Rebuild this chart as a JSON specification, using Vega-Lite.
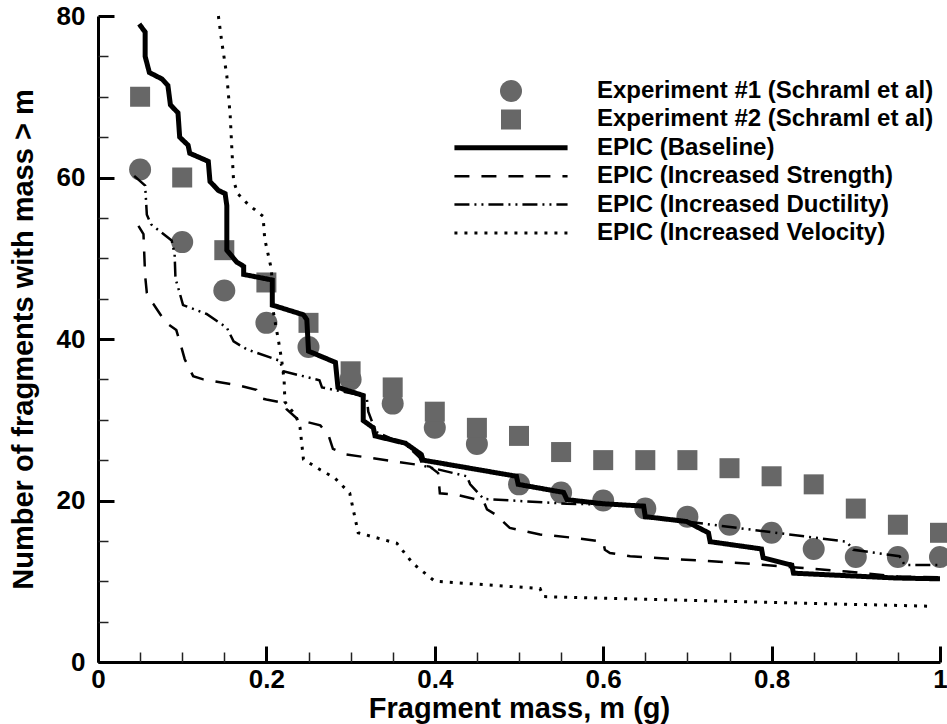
{
  "$schema": "https://vega.github.io/schema/vega-lite/v6.json",
  "width": 842,
  "height": 646,
  "autosize": {"type": "none"},
  "padding": {"left": 98, "top": 16, "right": 7, "bottom": 62},
  "background": "white",
  "config": {"view": {"stroke": null}, "font": "Liberation Sans"},
  "datasets": {
    "exp": [
      {"series": "Experiment #1 (Schraml et al)", "m": 0.05, "n": 61},
      {"series": "Experiment #1 (Schraml et al)", "m": 0.10, "n": 52},
      {"series": "Experiment #1 (Schraml et al)", "m": 0.15, "n": 46},
      {"series": "Experiment #1 (Schraml et al)", "m": 0.20, "n": 42},
      {"series": "Experiment #1 (Schraml et al)", "m": 0.25, "n": 39},
      {"series": "Experiment #1 (Schraml et al)", "m": 0.30, "n": 35},
      {"series": "Experiment #1 (Schraml et al)", "m": 0.35, "n": 32},
      {"series": "Experiment #1 (Schraml et al)", "m": 0.40, "n": 29},
      {"series": "Experiment #1 (Schraml et al)", "m": 0.45, "n": 27},
      {"series": "Experiment #1 (Schraml et al)", "m": 0.50, "n": 22},
      {"series": "Experiment #1 (Schraml et al)", "m": 0.55, "n": 21},
      {"series": "Experiment #1 (Schraml et al)", "m": 0.60, "n": 20},
      {"series": "Experiment #1 (Schraml et al)", "m": 0.65, "n": 19},
      {"series": "Experiment #1 (Schraml et al)", "m": 0.70, "n": 18},
      {"series": "Experiment #1 (Schraml et al)", "m": 0.75, "n": 17},
      {"series": "Experiment #1 (Schraml et al)", "m": 0.80, "n": 16},
      {"series": "Experiment #1 (Schraml et al)", "m": 0.85, "n": 14},
      {"series": "Experiment #1 (Schraml et al)", "m": 0.90, "n": 13},
      {"series": "Experiment #1 (Schraml et al)", "m": 0.95, "n": 13},
      {"series": "Experiment #1 (Schraml et al)", "m": 1.00, "n": 13},
      {"series": "Experiment #2 (Schraml et al)", "m": 0.05, "n": 70},
      {"series": "Experiment #2 (Schraml et al)", "m": 0.10, "n": 60},
      {"series": "Experiment #2 (Schraml et al)", "m": 0.15, "n": 51},
      {"series": "Experiment #2 (Schraml et al)", "m": 0.20, "n": 47},
      {"series": "Experiment #2 (Schraml et al)", "m": 0.25, "n": 42},
      {"series": "Experiment #2 (Schraml et al)", "m": 0.30, "n": 36},
      {"series": "Experiment #2 (Schraml et al)", "m": 0.35, "n": 34},
      {"series": "Experiment #2 (Schraml et al)", "m": 0.40, "n": 31},
      {"series": "Experiment #2 (Schraml et al)", "m": 0.45, "n": 29},
      {"series": "Experiment #2 (Schraml et al)", "m": 0.50, "n": 28},
      {"series": "Experiment #2 (Schraml et al)", "m": 0.55, "n": 26},
      {"series": "Experiment #2 (Schraml et al)", "m": 0.60, "n": 25},
      {"series": "Experiment #2 (Schraml et al)", "m": 0.65, "n": 25},
      {"series": "Experiment #2 (Schraml et al)", "m": 0.70, "n": 25},
      {"series": "Experiment #2 (Schraml et al)", "m": 0.75, "n": 24},
      {"series": "Experiment #2 (Schraml et al)", "m": 0.80, "n": 23},
      {"series": "Experiment #2 (Schraml et al)", "m": 0.85, "n": 22},
      {"series": "Experiment #2 (Schraml et al)", "m": 0.90, "n": 19},
      {"series": "Experiment #2 (Schraml et al)", "m": 0.95, "n": 17},
      {"series": "Experiment #2 (Schraml et al)", "m": 1.00, "n": 16}
    ],
    "epic": [
      {"series": "EPIC (Baseline)", "m": 0.049, "n": 79},
      {"series": "EPIC (Baseline)", "m": 0.056, "n": 78},
      {"series": "EPIC (Baseline)", "m": 0.056, "n": 75},
      {"series": "EPIC (Baseline)", "m": 0.061, "n": 73},
      {"series": "EPIC (Baseline)", "m": 0.076, "n": 72.2},
      {"series": "EPIC (Baseline)", "m": 0.083, "n": 71.4},
      {"series": "EPIC (Baseline)", "m": 0.086, "n": 69},
      {"series": "EPIC (Baseline)", "m": 0.095, "n": 68},
      {"series": "EPIC (Baseline)", "m": 0.097, "n": 65},
      {"series": "EPIC (Baseline)", "m": 0.107, "n": 64},
      {"series": "EPIC (Baseline)", "m": 0.109, "n": 63},
      {"series": "EPIC (Baseline)", "m": 0.131, "n": 62},
      {"series": "EPIC (Baseline)", "m": 0.133, "n": 59.5},
      {"series": "EPIC (Baseline)", "m": 0.143, "n": 58.4},
      {"series": "EPIC (Baseline)", "m": 0.151, "n": 58},
      {"series": "EPIC (Baseline)", "m": 0.153, "n": 56.5},
      {"series": "EPIC (Baseline)", "m": 0.153, "n": 51},
      {"series": "EPIC (Baseline)", "m": 0.165, "n": 49.5},
      {"series": "EPIC (Baseline)", "m": 0.173, "n": 49},
      {"series": "EPIC (Baseline)", "m": 0.173, "n": 48},
      {"series": "EPIC (Baseline)", "m": 0.207, "n": 47.3},
      {"series": "EPIC (Baseline)", "m": 0.207, "n": 44.2},
      {"series": "EPIC (Baseline)", "m": 0.244, "n": 43},
      {"series": "EPIC (Baseline)", "m": 0.248, "n": 42.4},
      {"series": "EPIC (Baseline)", "m": 0.25, "n": 38.5},
      {"series": "EPIC (Baseline)", "m": 0.282, "n": 37.1},
      {"series": "EPIC (Baseline)", "m": 0.285, "n": 34},
      {"series": "EPIC (Baseline)", "m": 0.315, "n": 33},
      {"series": "EPIC (Baseline)", "m": 0.315, "n": 29.9},
      {"series": "EPIC (Baseline)", "m": 0.327, "n": 29},
      {"series": "EPIC (Baseline)", "m": 0.329, "n": 28},
      {"series": "EPIC (Baseline)", "m": 0.365, "n": 27.1},
      {"series": "EPIC (Baseline)", "m": 0.384, "n": 25.7},
      {"series": "EPIC (Baseline)", "m": 0.386, "n": 25},
      {"series": "EPIC (Baseline)", "m": 0.497, "n": 23},
      {"series": "EPIC (Baseline)", "m": 0.499, "n": 22},
      {"series": "EPIC (Baseline)", "m": 0.553, "n": 21},
      {"series": "EPIC (Baseline)", "m": 0.557, "n": 20.1},
      {"series": "EPIC (Baseline)", "m": 0.6, "n": 19.6},
      {"series": "EPIC (Baseline)", "m": 0.648, "n": 19.3},
      {"series": "EPIC (Baseline)", "m": 0.65, "n": 18},
      {"series": "EPIC (Baseline)", "m": 0.699, "n": 17.4},
      {"series": "EPIC (Baseline)", "m": 0.725, "n": 16},
      {"series": "EPIC (Baseline)", "m": 0.727, "n": 14.9},
      {"series": "EPIC (Baseline)", "m": 0.788, "n": 14},
      {"series": "EPIC (Baseline)", "m": 0.79, "n": 12.9},
      {"series": "EPIC (Baseline)", "m": 0.824, "n": 12},
      {"series": "EPIC (Baseline)", "m": 0.826, "n": 11},
      {"series": "EPIC (Baseline)", "m": 0.948, "n": 10.4},
      {"series": "EPIC (Baseline)", "m": 1.0, "n": 10.3},
      {"series": "EPIC (Increased Strength)", "m": 0.048, "n": 54},
      {"series": "EPIC (Increased Strength)", "m": 0.054, "n": 53},
      {"series": "EPIC (Increased Strength)", "m": 0.056, "n": 47.8},
      {"series": "EPIC (Increased Strength)", "m": 0.058, "n": 45.7},
      {"series": "EPIC (Increased Strength)", "m": 0.062, "n": 44.8},
      {"series": "EPIC (Increased Strength)", "m": 0.066, "n": 44.3},
      {"series": "EPIC (Increased Strength)", "m": 0.08, "n": 42.1},
      {"series": "EPIC (Increased Strength)", "m": 0.093, "n": 41.1},
      {"series": "EPIC (Increased Strength)", "m": 0.099, "n": 39},
      {"series": "EPIC (Increased Strength)", "m": 0.103, "n": 37.5},
      {"series": "EPIC (Increased Strength)", "m": 0.113, "n": 35.4},
      {"series": "EPIC (Increased Strength)", "m": 0.125, "n": 35},
      {"series": "EPIC (Increased Strength)", "m": 0.169, "n": 34.2},
      {"series": "EPIC (Increased Strength)", "m": 0.188, "n": 33.7},
      {"series": "EPIC (Increased Strength)", "m": 0.192, "n": 32.7},
      {"series": "EPIC (Increased Strength)", "m": 0.2, "n": 32.5},
      {"series": "EPIC (Increased Strength)", "m": 0.22, "n": 32.1},
      {"series": "EPIC (Increased Strength)", "m": 0.224, "n": 31.3},
      {"series": "EPIC (Increased Strength)", "m": 0.238, "n": 30},
      {"series": "EPIC (Increased Strength)", "m": 0.264, "n": 29.3},
      {"series": "EPIC (Increased Strength)", "m": 0.274, "n": 28},
      {"series": "EPIC (Increased Strength)", "m": 0.279, "n": 26.4},
      {"series": "EPIC (Increased Strength)", "m": 0.295, "n": 25.7},
      {"series": "EPIC (Increased Strength)", "m": 0.355, "n": 24.8},
      {"series": "EPIC (Increased Strength)", "m": 0.394, "n": 24.2},
      {"series": "EPIC (Increased Strength)", "m": 0.404, "n": 23.4},
      {"series": "EPIC (Increased Strength)", "m": 0.406, "n": 20.9},
      {"series": "EPIC (Increased Strength)", "m": 0.426, "n": 20.7},
      {"series": "EPIC (Increased Strength)", "m": 0.458, "n": 19.9},
      {"series": "EPIC (Increased Strength)", "m": 0.462, "n": 18.9},
      {"series": "EPIC (Increased Strength)", "m": 0.473, "n": 18.2},
      {"series": "EPIC (Increased Strength)", "m": 0.489, "n": 16.6},
      {"series": "EPIC (Increased Strength)", "m": 0.525, "n": 15.8},
      {"series": "EPIC (Increased Strength)", "m": 0.572, "n": 15.3},
      {"series": "EPIC (Increased Strength)", "m": 0.6, "n": 14.9},
      {"series": "EPIC (Increased Strength)", "m": 0.602, "n": 13.9},
      {"series": "EPIC (Increased Strength)", "m": 0.608, "n": 13.5},
      {"series": "EPIC (Increased Strength)", "m": 0.632, "n": 13.1},
      {"series": "EPIC (Increased Strength)", "m": 0.77, "n": 12.2},
      {"series": "EPIC (Increased Strength)", "m": 0.889, "n": 11.2},
      {"series": "EPIC (Increased Strength)", "m": 0.95, "n": 10.6},
      {"series": "EPIC (Increased Strength)", "m": 1.0, "n": 10.5},
      {"series": "EPIC (Increased Ductility)", "m": 0.043, "n": 60.2},
      {"series": "EPIC (Increased Ductility)", "m": 0.056, "n": 59},
      {"series": "EPIC (Increased Ductility)", "m": 0.058, "n": 55.4},
      {"series": "EPIC (Increased Ductility)", "m": 0.063, "n": 54.2},
      {"series": "EPIC (Increased Ductility)", "m": 0.0875, "n": 52.2},
      {"series": "EPIC (Increased Ductility)", "m": 0.091, "n": 50.5},
      {"series": "EPIC (Increased Ductility)", "m": 0.092, "n": 47.5},
      {"series": "EPIC (Increased Ductility)", "m": 0.097, "n": 45.7},
      {"series": "EPIC (Increased Ductility)", "m": 0.101, "n": 44.2},
      {"series": "EPIC (Increased Ductility)", "m": 0.129, "n": 43.1},
      {"series": "EPIC (Increased Ductility)", "m": 0.153, "n": 41.4},
      {"series": "EPIC (Increased Ductility)", "m": 0.161, "n": 39.7},
      {"series": "EPIC (Increased Ductility)", "m": 0.177, "n": 38.7},
      {"series": "EPIC (Increased Ductility)", "m": 0.216, "n": 37.3},
      {"series": "EPIC (Increased Ductility)", "m": 0.22, "n": 36},
      {"series": "EPIC (Increased Ductility)", "m": 0.263, "n": 34.9},
      {"series": "EPIC (Increased Ductility)", "m": 0.266, "n": 34},
      {"series": "EPIC (Increased Ductility)", "m": 0.319, "n": 32.9},
      {"series": "EPIC (Increased Ductility)", "m": 0.321, "n": 31},
      {"series": "EPIC (Increased Ductility)", "m": 0.33, "n": 28.5},
      {"series": "EPIC (Increased Ductility)", "m": 0.367, "n": 26.8},
      {"series": "EPIC (Increased Ductility)", "m": 0.382, "n": 25.3},
      {"series": "EPIC (Increased Ductility)", "m": 0.386, "n": 24.3},
      {"series": "EPIC (Increased Ductility)", "m": 0.438, "n": 23},
      {"series": "EPIC (Increased Ductility)", "m": 0.442, "n": 22},
      {"series": "EPIC (Increased Ductility)", "m": 0.458, "n": 20.2},
      {"series": "EPIC (Increased Ductility)", "m": 0.557, "n": 19.6},
      {"series": "EPIC (Increased Ductility)", "m": 0.6, "n": 19.5},
      {"series": "EPIC (Increased Ductility)", "m": 0.648, "n": 19.3},
      {"series": "EPIC (Increased Ductility)", "m": 0.65, "n": 18},
      {"series": "EPIC (Increased Ductility)", "m": 0.699, "n": 17.4},
      {"series": "EPIC (Increased Ductility)", "m": 0.889, "n": 14.9},
      {"series": "EPIC (Increased Ductility)", "m": 0.897, "n": 13.9},
      {"series": "EPIC (Increased Ductility)", "m": 0.952, "n": 13.1},
      {"series": "EPIC (Increased Ductility)", "m": 0.958, "n": 12},
      {"series": "EPIC (Increased Ductility)", "m": 1.0, "n": 12},
      {"series": "EPIC (Increased Velocity)", "m": 0.143, "n": 80},
      {"series": "EPIC (Increased Velocity)", "m": 0.147, "n": 76.8},
      {"series": "EPIC (Increased Velocity)", "m": 0.153, "n": 72.6},
      {"series": "EPIC (Increased Velocity)", "m": 0.157, "n": 67.7},
      {"series": "EPIC (Increased Velocity)", "m": 0.159, "n": 63.5},
      {"series": "EPIC (Increased Velocity)", "m": 0.161, "n": 59.6},
      {"series": "EPIC (Increased Velocity)", "m": 0.166, "n": 58},
      {"series": "EPIC (Increased Velocity)", "m": 0.178, "n": 56.7},
      {"series": "EPIC (Increased Velocity)", "m": 0.196, "n": 55.2},
      {"series": "EPIC (Increased Velocity)", "m": 0.198, "n": 52.4},
      {"series": "EPIC (Increased Velocity)", "m": 0.206, "n": 48.6},
      {"series": "EPIC (Increased Velocity)", "m": 0.208, "n": 43.5},
      {"series": "EPIC (Increased Velocity)", "m": 0.214, "n": 40},
      {"series": "EPIC (Increased Velocity)", "m": 0.218, "n": 37.5},
      {"series": "EPIC (Increased Velocity)", "m": 0.221, "n": 35},
      {"series": "EPIC (Increased Velocity)", "m": 0.222, "n": 32.2},
      {"series": "EPIC (Increased Velocity)", "m": 0.235, "n": 30.5},
      {"series": "EPIC (Increased Velocity)", "m": 0.24, "n": 29},
      {"series": "EPIC (Increased Velocity)", "m": 0.244, "n": 25.1},
      {"series": "EPIC (Increased Velocity)", "m": 0.264, "n": 23.8},
      {"series": "EPIC (Increased Velocity)", "m": 0.281, "n": 22.8},
      {"series": "EPIC (Increased Velocity)", "m": 0.299, "n": 20.9},
      {"series": "EPIC (Increased Velocity)", "m": 0.309, "n": 16},
      {"series": "EPIC (Increased Velocity)", "m": 0.355, "n": 14.7},
      {"series": "EPIC (Increased Velocity)", "m": 0.374, "n": 12.2},
      {"series": "EPIC (Increased Velocity)", "m": 0.4, "n": 10},
      {"series": "EPIC (Increased Velocity)", "m": 0.525, "n": 9.1},
      {"series": "EPIC (Increased Velocity)", "m": 0.529, "n": 8.1},
      {"series": "EPIC (Increased Velocity)", "m": 0.6, "n": 7.9},
      {"series": "EPIC (Increased Velocity)", "m": 0.99, "n": 6.9}
    ]
  },
  "layer": [
    {
      "data": {"name": "exp"},
      "transform": [{"filter": "datum.series === 'Experiment #1 (Schraml et al)'"}],
      "mark": {"type": "point", "filled": true, "opacity": 1},
      "encoding": {
        "x": {
          "field": "m", "type": "quantitative",
          "scale": {"domain": [0, 1], "nice": false, "zero": false},
          "axis": {
            "orient": "bottom", "values": [0, 0.2, 0.4, 0.6, 0.8, 1], "format": "~g",
            "grid": false, "ticks": false, "tickSize": 0,
            "domainColor": "black", "domainWidth": 3,
            "labelFont": "Liberation Sans", "labelFontSize": 26, "labelFontWeight": "bold", "labelColor": "black",
            "labelPadding": 4, "labelFlush": false, "labelOverlap": false,
            "title": "Fragment mass, m (g)", "titleFont": "Liberation Sans", "titleFontSize": 29,
            "titleFontWeight": "bold", "titleColor": "black", "titlePadding": 2
          }
        },
        "y": {
          "field": "n", "type": "quantitative",
          "scale": {"domain": [0, 80], "nice": false},
          "axis": {
            "orient": "left", "values": [0, 20, 40, 60, 80],
            "grid": false, "ticks": false, "tickSize": 0,
            "domainColor": "black", "domainWidth": 3,
            "labelFont": "Liberation Sans", "labelFontSize": 26, "labelFontWeight": "bold", "labelColor": "black",
            "labelPadding": 13, "labelFlush": false, "labelOverlap": false,
            "title": "Number of fragments with mass > m", "titleFont": "Liberation Sans", "titleFontSize": 29,
            "titleFontWeight": "bold", "titleColor": "black", "titlePadding": 18
          }
        },
        "color": {
          "field": "series", "type": "nominal",
          "scale": {
            "domain": ["Experiment #1 (Schraml et al)", "Experiment #2 (Schraml et al)", "EPIC (Baseline)", "EPIC (Increased Strength)", "EPIC (Increased Ductility)", "EPIC (Increased Velocity)"],
            "range": ["#676767", "#676767", "black", "black", "black", "black"]
          },
          "legend": {
            "orient": "none", "legendX": 353.5, "legendY": 63.5, "title": null, "padding": 0,
            "clipHeight": 23, "rowPadding": 3.4, "labelOffset": 26.5, "labelLimit": 600,
            "labelFont": "Liberation Sans", "labelFontWeight": "bold", "labelFontSize": 24, "labelColor": "black"
          }
        },
        "shape": {
          "field": "series", "type": "nominal",
          "scale": {
            "domain": ["Experiment #1 (Schraml et al)", "Experiment #2 (Schraml et al)", "EPIC (Baseline)", "EPIC (Increased Strength)", "EPIC (Increased Ductility)", "EPIC (Increased Velocity)"],
            "range": ["circle", "square", "stroke", "stroke", "stroke", "stroke"]
          }
        },
        "size": {
          "field": "series", "type": "nominal",
          "scale": {
            "type": "ordinal",
            "domain": ["Experiment #1 (Schraml et al)", "Experiment #2 (Schraml et al)", "EPIC (Baseline)", "EPIC (Increased Strength)", "EPIC (Increased Ductility)", "EPIC (Increased Velocity)"],
            "range": [484, 400, 12800, 12800, 12800, 12800]
          }
        }
      }
    },
    {
      "data": {"name": "exp"},
      "transform": [{"filter": "datum.series === 'Experiment #2 (Schraml et al)'"}],
      "mark": {"type": "point", "filled": true, "opacity": 1},
      "encoding": {
        "x": {
          "field": "m", "type": "quantitative",
          "axis": {
            "orient": "top", "offset": -646, "values": [0, 0.2, 0.4, 0.6, 0.8, 1],
            "labels": true, "labelOpacity": 0, "labelFontSize": 1, "labelPadding": 0, "domain": false, "grid": false, "title": null,
            "tickColor": "#000000", "tickSize": 16, "tickWidth": 3, "tickOpacity": 1
          }
        },
        "y": {
          "field": "n", "type": "quantitative",
          "axis": {
            "orient": "right", "offset": -842, "values": [0, 20, 40, 60, 80],
            "labels": true, "labelOpacity": 0, "labelFontSize": 1, "labelPadding": 0, "domain": false, "grid": false, "title": null,
            "tickColor": "#000000", "tickSize": 16, "tickWidth": 3, "tickOpacity": 1
          }
        },
        "color": {
          "field": "series", "type": "nominal",
          "scale": {
            "domain": ["Experiment #1 (Schraml et al)", "Experiment #2 (Schraml et al)", "EPIC (Baseline)", "EPIC (Increased Strength)", "EPIC (Increased Ductility)", "EPIC (Increased Velocity)"],
            "range": ["#676767", "#676767", "black", "black", "black", "black"]
          }
        },
        "shape": {
          "field": "series", "type": "nominal",
          "scale": {
            "domain": ["Experiment #1 (Schraml et al)", "Experiment #2 (Schraml et al)", "EPIC (Baseline)", "EPIC (Increased Strength)", "EPIC (Increased Ductility)", "EPIC (Increased Velocity)"],
            "range": ["circle", "square", "stroke", "stroke", "stroke", "stroke"]
          }
        },
        "size": {
          "field": "series", "type": "nominal",
          "scale": {
            "type": "ordinal",
            "domain": ["Experiment #1 (Schraml et al)", "Experiment #2 (Schraml et al)", "EPIC (Baseline)", "EPIC (Increased Strength)", "EPIC (Increased Ductility)", "EPIC (Increased Velocity)"],
            "range": [484, 400, 12800, 12800, 12800, 12800]
          }
        }
      }
    },
    {
      "data": {"name": "epic"},
      "mark": {"type": "line"},
      "encoding": {
        "x": {
          "field": "m", "type": "quantitative",
          "axis": {
            "orient": "top", "offset": -646,
            "values": [0.05, 0.1, 0.15, 0.25, 0.3, 0.35, 0.45, 0.5, 0.55, 0.65, 0.7, 0.75, 0.85, 0.9, 0.95],
            "labels": true, "labelOpacity": 0, "labelFontSize": 1, "labelPadding": 0, "domain": false, "grid": false, "title": null,
            "tickColor": "#222222", "tickSize": 10, "tickWidth": 1.5, "tickOpacity": 1
          }
        },
        "y": {
          "field": "n", "type": "quantitative",
          "axis": {
            "orient": "right", "offset": -842,
            "values": [5, 10, 15, 25, 30, 35, 45, 50, 55, 65, 70, 75],
            "labels": true, "labelOpacity": 0, "labelFontSize": 1, "labelPadding": 0, "domain": false, "grid": false, "title": null,
            "tickColor": "#222222", "tickSize": 10, "tickWidth": 1.5, "tickOpacity": 1
          }
        },
        "color": {
          "field": "series", "type": "nominal",
          "scale": {
            "domain": ["Experiment #1 (Schraml et al)", "Experiment #2 (Schraml et al)", "EPIC (Baseline)", "EPIC (Increased Strength)", "EPIC (Increased Ductility)", "EPIC (Increased Velocity)"],
            "range": ["#676767", "#676767", "black", "black", "black", "black"]
          }
        },
        "strokeDash": {
          "field": "series", "type": "nominal",
          "scale": {
            "domain": ["Experiment #1 (Schraml et al)", "Experiment #2 (Schraml et al)", "EPIC (Baseline)", "EPIC (Increased Strength)", "EPIC (Increased Ductility)", "EPIC (Increased Velocity)"],
            "range": [[1, 0], [1, 0], [1, 0], [15, 12], [15, 5, 2, 5, 2, 5], [3, 7]]
          }
        },
        "strokeWidth": {
          "field": "series", "type": "nominal",
          "scale": {
            "type": "ordinal",
            "domain": ["Experiment #1 (Schraml et al)", "Experiment #2 (Schraml et al)", "EPIC (Baseline)", "EPIC (Increased Strength)", "EPIC (Increased Ductility)", "EPIC (Increased Velocity)"],
            "range": [0, 0, 5, 2.5, 2.5, 3]
          }
        },
        "order": {"value": null}
      }
    }
  ],
  "resolve": {"axis": {"x": "independent", "y": "independent"}}
}
